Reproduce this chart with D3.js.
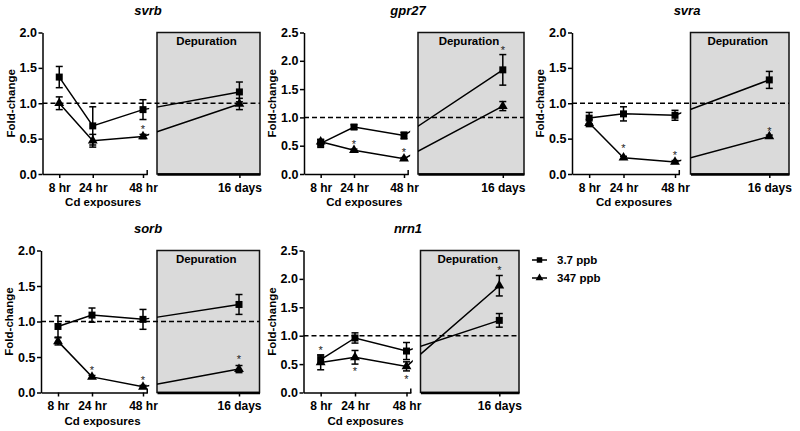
<!DOCTYPE html>
<html><head><meta charset="utf-8">
<script src="https://cdn.jsdelivr.net/npm/d3@7/dist/d3.min.js"></script>
<style>
body{margin:0;background:#fff;}
svg{display:block;font-family:"Liberation Sans",Arial,sans-serif;}
</style></head>
<body><svg id="chart" width="800" height="431"></svg>
<script>
// ---- data ----
const genes = ["svrb","gpr27","svra","sorb","nrn1"];
const timeLabels = ["8 hr","24 hr","48 hr","16 days"];
const exposureHours = [8,24,48];
const depurationDays = [16];
const seriesNames = ["3.7 ppb","347 ppb"];
const yTicks20 = [0,0.5,1.0,1.5,2.0];
const yTicks25 = [0,0.5,1.0,1.5,2.0,2.5];
const yMaxes = [2.0,2.5,2.0,2.0,2.5];

const svrbLow = [1.37,0.68,0.91,1.16],   svrbLowErr = [0.15,0.27,0.14,0.14];
const svrbHigh = [1.00,0.47,0.53,0.99],  svrbHighErr = [0.09,0.09,0.03,0.08];
const gpr27Low = [0.54,0.83,0.68,1.84],  gpr27LowErr = [0.07,0.04,0.06,0.27];
const gpr27High = [0.57,0.42,0.27,1.20], gpr27HighErr = [0.04,0.02,0.02,0.08];
const svraLow = [0.79,0.85,0.83,1.33],   svraLowErr = [0.08,0.10,0.07,0.12];
const svraHigh = [0.72,0.23,0.17,0.53],  svraHighErr = [0.05,0.02,0.02,0.02];
const sorbLow = [0.93,1.09,1.03,1.24],   sorbLowErr = [0.15,0.10,0.14,0.14];
const sorbHigh = [0.72,0.22,0.08,0.33],  sorbHighErr = [0.05,0.02,0.02,0.05];
const nrn1Low = [0.58,0.96,0.73,1.27],   nrn1LowErr = [0.08,0.09,0.15,0.12];
const nrn1High = [0.53,0.62,0.46,1.88],  nrn1HighErr = [0.13,0.12,0.08,0.18];

// significance stars: [time index, y position value]
const svrbStars = [[2,0.67]];
const gpr27Stars = [[1,0.56],[2,0.43],[3,2.22]];
const svraStars = [[1,0.39],[2,0.30],[3,0.635]];
const sorbStars = [[1,0.35],[2,0.21],[3,0.50]];
const nrn1Stars = [[0,0.78],[1,0.41],[2,0.28],[3,2.20]];

const lowVals = [svrbLow,gpr27Low,svraLow,sorbLow,nrn1Low];
const lowErrs = [svrbLowErr,gpr27LowErr,svraLowErr,sorbLowErr,nrn1LowErr];
const highVals = [svrbHigh,gpr27High,svraHigh,sorbHigh,nrn1High];
const highErrs = [svrbHighErr,gpr27HighErr,svraHighErr,sorbHighErr,nrn1HighErr];
const starSets = [svrbStars,gpr27Stars,svraStars,sorbStars,nrn1Stars];

// ---- layout (positions only) ----
const layouts = [
  {ax:42.5, x48:143, boxL:157, boxR:260, top:32.5, bottom:174, tx:148},
  {ax:304, x48:404, boxL:418, boxR:524, top:32.5, bottom:174, tx:408},
  {ax:572, x48:675, boxL:690.5, boxR:789, top:32.5, bottom:174, tx:687},
  {ax:41, x48:143, boxL:157, boxR:259.5, top:250.5, bottom:392.5, tx:148},
  {ax:303.5, x48:406.5, boxL:420.5, boxR:519, top:250.5, bottom:392.5, tx:408}
];

const svg = d3.select("#chart");
const FONT = '"Liberation Sans",Arial,sans-serif';

genes.forEach((gene, gi) => {
  const L = layouts[gi];
  const g = svg.append("g");
  const yMax = yMaxes[gi];
  const y = d3.scaleLinear().domain([0, yMax]).range([L.bottom, L.top]);
  const xL = d3.scaleLinear().domain([0, 48]).range([L.ax, L.x48]);
  const xR = d3.scaleLinear().domain([12, 17]).range([L.boxL, L.boxR]);
  const axEnd = xL(50);
  const xPos = i => i < 3 ? xL(exposureHours[i]) : xR(depurationDays[0]);

  // depuration box
  g.append("rect").attr("x", L.boxL).attr("y", L.top)
    .attr("width", L.boxR - L.boxL).attr("height", L.bottom - L.top)
    .attr("fill", "#dadada").attr("stroke", "#111").attr("stroke-width", 1.5);
  g.append("text").attr("x", (L.boxL + L.boxR)/2 - 2).attr("y", L.top + 12)
    .attr("text-anchor","middle").attr("font-size",11.5).attr("font-weight","bold")
    .attr("font-family",FONT).text("Depuration");

  // y axis
  const yAx = g.append("g").attr("transform", `translate(${L.ax},0)`)
    .call(d3.axisLeft(y).tickValues(yMax > 2.2 ? yTicks25 : yTicks20)
      .tickFormat(d3.format(".1f")).tickSize(4).tickPadding(1.5).tickSizeOuter(0));
  yAx.selectAll("path,line").attr("stroke","#000").attr("stroke-width",1.5);
  yAx.selectAll("text").attr("font-size",12.5).attr("font-weight","bold").attr("font-family",FONT).attr("fill","#000");

  // x axis left segment
  const xAxL = g.append("g").attr("transform", `translate(0,${L.bottom})`)
    .call(d3.axisBottom(d3.scaleLinear().domain([0,50]).range([L.ax, axEnd]))
      .tickValues(exposureHours).tickFormat((d,i)=>timeLabels[i])
      .tickSize(4).tickPadding(5).tickSizeOuter(0));
  xAxL.selectAll("path,line").attr("stroke","#000").attr("stroke-width",1.5);
  xAxL.selectAll("text").attr("font-size",12).attr("font-weight","bold").attr("font-family",FONT).attr("fill","#000");
  g.append("line").attr("x1",axEnd).attr("x2",axEnd).attr("y1",L.bottom-4).attr("y2",L.bottom+0.75)
    .attr("stroke","#000").attr("stroke-width",1.5);

  // x axis right segment
  const xAxR = g.append("g").attr("transform", `translate(0,${L.bottom})`)
    .call(d3.axisBottom(xR).tickValues(depurationDays).tickFormat(()=>timeLabels[3])
      .tickSize(4).tickPadding(5).tickSizeOuter(0));
  xAxR.select("path").attr("stroke","#000").attr("stroke-width",2.5);
  xAxR.selectAll("line").attr("stroke","#000").attr("stroke-width",1.5);
  xAxR.selectAll("text").attr("font-size",12).attr("font-weight","bold").attr("font-family",FONT).attr("fill","#000");

  // axis titles
  g.append("text").attr("transform", `translate(${L.ax-32},${(L.top+L.bottom)/2}) rotate(-90)`)
    .attr("text-anchor","middle").attr("dy","0.35em").attr("font-size",11.5).attr("font-weight","bold")
    .attr("font-family",FONT).text("Fold-change");
  g.append("text").attr("x", (xL(8)+xL(48))/2 + 2).attr("y", L.bottom + 32)
    .attr("text-anchor","middle").attr("font-size",11.5).attr("font-weight","bold")
    .attr("font-family",FONT).text("Cd exposures");
  // gene title
  g.append("text").attr("x", L.tx).attr("y", L.top - 18)
    .attr("text-anchor","middle").attr("font-size",13).attr("font-weight","bold").attr("font-style","italic")
    .attr("font-family",FONT).text(gene);

  // reference dashed line
  g.append("line").attr("x1", L.ax).attr("x2", L.boxR).attr("y1", y(1)).attr("y2", y(1))
    .attr("stroke","#000").attr("stroke-width",1.5).attr("stroke-dasharray","5,3");

  // clip for broken lines
  const cid = "clip" + gi;
  const cp = svg.append("clipPath").attr("id", cid);
  cp.append("rect").attr("x", L.ax).attr("y", L.top - 20).attr("width", axEnd + 2 - L.ax).attr("height", L.bottom - L.top + 40);
  cp.append("rect").attr("x", L.boxL).attr("y", L.top - 20).attr("width", L.boxR - L.boxL).attr("height", L.bottom - L.top + 40);

  const series = [
    {vals: lowVals[gi], errs: lowErrs[gi], sym: d3.symbolSquare, size: 49},
    {vals: highVals[gi], errs: highErrs[gi], sym: d3.symbolTriangle, size: 42}
  ];
  const line = d3.line().x((d,i)=>xPos(i)).y(d=>y(d));
  series.forEach(s => {
    g.append("path").datum(s.vals).attr("d", line).attr("fill","none")
      .attr("stroke","#000").attr("stroke-width",1.5).attr("clip-path", `url(#${cid})`);
  });
  series.forEach(s => {
    s.vals.forEach((v,i) => {
      const x = xPos(i), e = s.errs[i];
      const eb = g.append("g").attr("stroke","#000").attr("stroke-width",1.5);
      eb.append("line").attr("x1",x).attr("x2",x).attr("y1",y(v-e)).attr("y2",y(v+e));
      eb.append("line").attr("x1",x-3.5).attr("x2",x+3.5).attr("y1",y(v-e)).attr("y2",y(v-e));
      eb.append("line").attr("x1",x-3.5).attr("x2",x+3.5).attr("y1",y(v+e)).attr("y2",y(v+e));
      g.append("path").attr("d", d3.symbol().type(s.sym).size(s.size)())
        .attr("transform", `translate(${x},${y(v)})`).attr("fill","#000");
    });
  });
  // stars
  starSets[gi].forEach(([i, v]) => {
    g.append("text").attr("x", xPos(i)).attr("y", y(v) + 6)
      .attr("text-anchor","middle").attr("font-size",11).attr("fill","#222")
      .attr("font-family",FONT).text("*");
  });
});

// legend
const leg = svg.append("g");
seriesNames.forEach((name, i) => {
  const ly = 260 + i*18;
  leg.append("line").attr("x1",532).attr("x2",547).attr("y1",ly).attr("y2",ly)
    .attr("stroke","#000").attr("stroke-width",1.5);
  leg.append("path").attr("d", d3.symbol().type(i===0?d3.symbolSquare:d3.symbolTriangle).size(i===0?30:26)())
    .attr("transform",`translate(539.5,${ly})`).attr("fill","#000");
  leg.append("text").attr("x",557).attr("y",ly+4.2).attr("font-size",11.5).attr("font-weight","bold")
    .attr("font-family",FONT).text(name);
});
</script></body></html>
